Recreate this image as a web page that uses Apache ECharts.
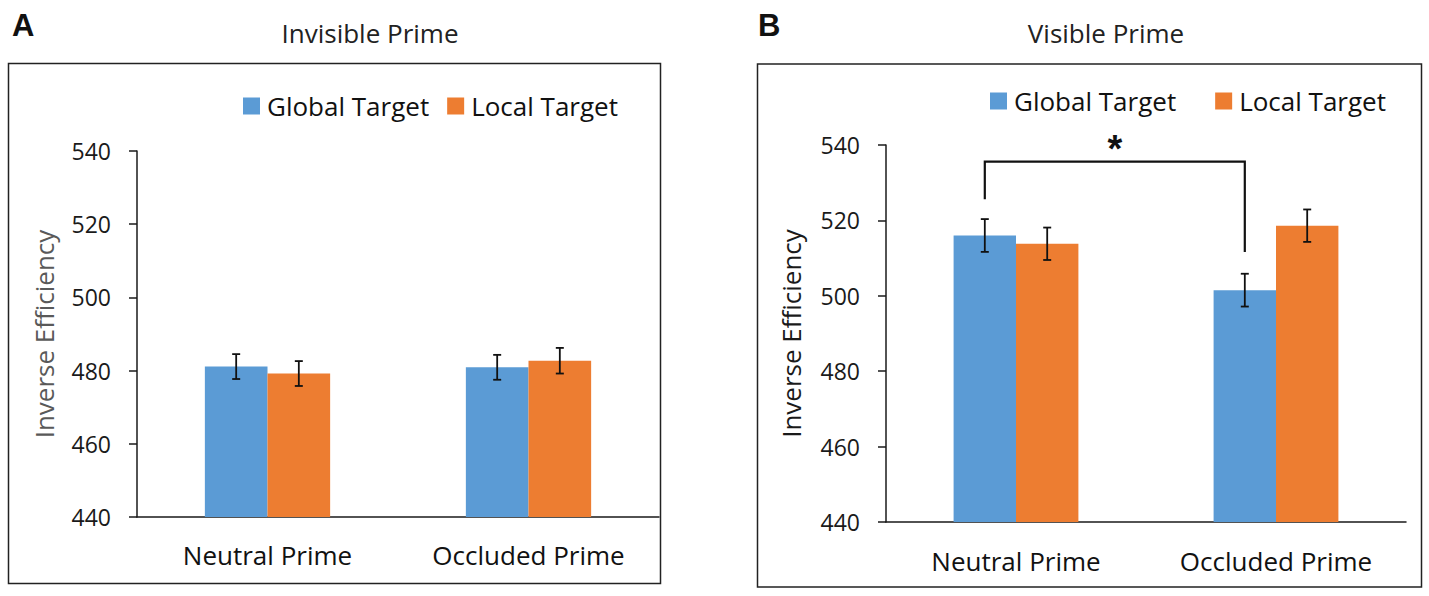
<!DOCTYPE html>
<html>
<head>
<meta charset="utf-8">
<script src="https://cdn.jsdelivr.net/npm/echarts@6/dist/echarts.min.js"></script>
<style>
html,body{margin:0;padding:0;background:#fff;}
#chart{width:1429px;height:596px;}
</style>
</head>
<body>
<div id="chart"></div>
<script>
// ---------- data ----------
const categories = ['Neutral Prime', 'Occluded Prime'];
const seriesNames = ['Global Target', 'Local Target'];
const panelTitles = ['Invisible Prime', 'Visible Prime'];
const panelLetters = ['A', 'B'];
const yAxisName = 'Inverse Efficiency';
const yMin = 440, yMax = 540, yStep = 20;

// Panel A: Invisible Prime
const invisibleGlobal = [481.1, 480.9];
const invisibleLocal = [479.2, 482.7];
const invisibleGlobalErr = [3.4, 3.4];
const invisibleLocalErr = [3.4, 3.5];

// Panel B: Visible Prime
const visibleGlobal = [516.0, 501.5];
const visibleLocal = [513.8, 518.6];
const visibleGlobalErr = [4.35, 4.35];
const visibleLocalErr = [4.3, 4.3];

// significance bracket in panel B (between Global Target bars)
const bracketFrom = 0, bracketTo = 1;
const bracketTop = 535.6, bracketLeftEnd = 525.6, bracketRightEnd = 511.6;
const bracketStarValue = 539;
const bracketLabel = '*';

// ---------- styles ----------
const BLUE = '#5B9BD5', ORANGE = '#ED7D31';
const GAP = 0.52;
const FONT = '"Open Sans"';
const AXIS_COLOR = '#1a1a1a';

const chart = echarts.init(document.getElementById('chart'), null, {renderer: 'svg'});

function errItem(means, errs) {
  return means.map((m, i) => [i, m, errs[i]]);
}

function errorRender(side) {
  return function (params, api) {
    const cat = api.value(0), m = api.value(1), e = api.value(2);
    const band = api.size([1, 0])[0];
    const bw = band * (1 - GAP) / 2;
    const off = side === 0 ? -bw / 2 : bw / 2;
    const top = api.coord([cat, m + e]);
    const bot = api.coord([cat, m - e]);
    const x = top[0] + off;
    const cap = 4;
    const st = {stroke: '#111', lineWidth: 1.8};
    return {
      type: 'group',
      children: [
        {type: 'line', shape: {x1: x, y1: top[1], x2: x, y2: bot[1]}, style: st},
        {type: 'line', shape: {x1: x - cap, y1: top[1], x2: x + cap, y2: top[1]}, style: st},
        {type: 'line', shape: {x1: x - cap, y1: bot[1], x2: x + cap, y2: bot[1]}, style: st}
      ]
    };
  };
}

function bracketRender(params, api) {
  const c0 = api.value(0), c1 = api.value(1);
  const band = api.size([1, 0])[0];
  const bw = band * (1 - GAP) / 2;
  const off = -bw / 2; // Global Target bars
  const pTop0 = api.coord([c0, api.value(2)]);
  const pTop1 = api.coord([c1, api.value(2)]);
  const pL = api.coord([c0, api.value(3)]);
  const pR = api.coord([c1, api.value(4)]);
  const pStar = api.coord([(c0 + c1) / 2, api.value(5)]);
  const xl = pTop0[0] + off, xr = pTop1[0] + off;
  const st = {stroke: '#111', lineWidth: 2.2, fill: 'none'};
  return {
    type: 'group',
    children: [
      {type: 'polyline', shape: {points: [[xl, pL[1]], [xl, pTop0[1]], [xr, pTop1[1]], [xr, pR[1]]]}, style: st},
      {type: 'text', x: (xl + xr) / 2, y: pStar[1],
       style: {text: bracketLabel, fill: '#111', font: 'bold 38px "Liberation Sans"', textAlign: 'center', textVerticalAlign: 'middle'}}
    ]
  };
}

function yAxisCfg(gridIndex, nameColor, nameGap) {
  return {
    type: 'value', gridIndex: gridIndex, min: yMin, max: yMax, interval: yStep,
    name: yAxisName, nameLocation: 'middle', nameGap: nameGap,
    nameTextStyle: {color: nameColor, fontFamily: FONT, fontSize: 26},
    axisLine: {show: true, lineStyle: {color: AXIS_COLOR, width: 1.5}},
    axisTick: {show: true, inside: false, length: 8, lineStyle: {color: AXIS_COLOR, width: 1.5}},
    axisLabel: {color: '#1a1a1a', fontFamily: FONT, fontSize: 23, margin: 26},
    splitLine: {show: false}
  };
}

function xAxisCfg(gridIndex, margin) {
  return {
    type: 'category', gridIndex: gridIndex, data: categories,
    axisLine: {show: true, lineStyle: {color: AXIS_COLOR, width: 1.5}},
    axisTick: {show: false},
    axisLabel: {color: '#111', fontFamily: FONT, fontSize: 26, margin: margin}
  };
}

function barSeries(name, data, axisIdx, color) {
  return {
    type: 'bar', name: name, data: data, xAxisIndex: axisIdx, yAxisIndex: axisIdx,
    barGap: '0%', barCategoryGap: (GAP * 100) + '%',
    itemStyle: {color: color}, emphasis: {disabled: true}
  };
}

function errSeries(means, errs, axisIdx, side) {
  return {
    type: 'custom', xAxisIndex: axisIdx, yAxisIndex: axisIdx,
    data: errItem(means, errs), renderItem: errorRender(side),
    encode: {x: 0, y: 1}, z: 5, silent: true
  };
}

const option = {
  animation: false,
  backgroundColor: '#fff',
  title: [
    {text: panelLetters[0], left: 7, top: 5, textStyle: {fontFamily: 'Liberation Sans', fontWeight: 'bold', fontSize: 31, color: '#111'}},
    {text: panelLetters[1], left: 753, top: 5, textStyle: {fontFamily: 'Liberation Sans', fontWeight: 'bold', fontSize: 31, color: '#111'}},
    {text: panelTitles[0], left: 365, top: 15, textAlign: 'center', textStyle: {fontFamily: FONT, fontWeight: 'normal', fontSize: 26, color: '#222'}},
    {text: panelTitles[1], left: 1101, top: 15, textAlign: 'center', textStyle: {fontFamily: FONT, fontWeight: 'normal', fontSize: 26, color: '#222'}}
  ],
  legend: [
    {data: seriesNames, left: 238, top: 88, icon: 'rect', itemWidth: 17, itemHeight: 17, itemGap: 18,
     textStyle: {fontFamily: FONT, fontSize: 26, color: '#111', padding: [0, 0, 0, 2]}, selectedMode: false},
    {data: seriesNames, left: 985, top: 83, icon: 'rect', itemWidth: 17, itemHeight: 17, itemGap: 39,
     textStyle: {fontFamily: FONT, fontSize: 26, color: '#111', padding: [0, 0, 0, 2]}, selectedMode: false}
  ],
  grid: [
    {left: 137, top: 151, width: 522, height: 366},
    {left: 886, top: 145, width: 520, height: 377}
  ],
  xAxis: [xAxisCfg(0, 25), xAxisCfg(1, 26)],
  yAxis: [yAxisCfg(0, '#595959', 80), yAxisCfg(1, '#1a1a1a', 82)],
  graphic: [
    {type: 'rect', shape: {x: 8.5, y: 63.5, width: 652, height: 520}, style: {fill: 'none', stroke: '#222', lineWidth: 1.5}, silent: true, z: -1},
    {type: 'rect', shape: {x: 757.5, y: 64, width: 664, height: 523}, style: {fill: 'none', stroke: '#222', lineWidth: 1.5}, silent: true, z: -1}
  ],
  series: [
    barSeries(seriesNames[0], invisibleGlobal, 0, BLUE),
    barSeries(seriesNames[1], invisibleLocal, 0, ORANGE),
    errSeries(invisibleGlobal, invisibleGlobalErr, 0, 0),
    errSeries(invisibleLocal, invisibleLocalErr, 0, 1),
    barSeries(seriesNames[0], visibleGlobal, 1, BLUE),
    barSeries(seriesNames[1], visibleLocal, 1, ORANGE),
    errSeries(visibleGlobal, visibleGlobalErr, 1, 0),
    errSeries(visibleLocal, visibleLocalErr, 1, 1),
    {
      type: 'custom', xAxisIndex: 1, yAxisIndex: 1, silent: true, z: 6,
      data: [[bracketFrom, bracketTo, bracketTop, bracketLeftEnd, bracketRightEnd, bracketStarValue]],
      encode: {x: 0, y: 2},
      renderItem: bracketRender
    }
  ]
};
chart.setOption(option);
</script>
</body>
</html>
